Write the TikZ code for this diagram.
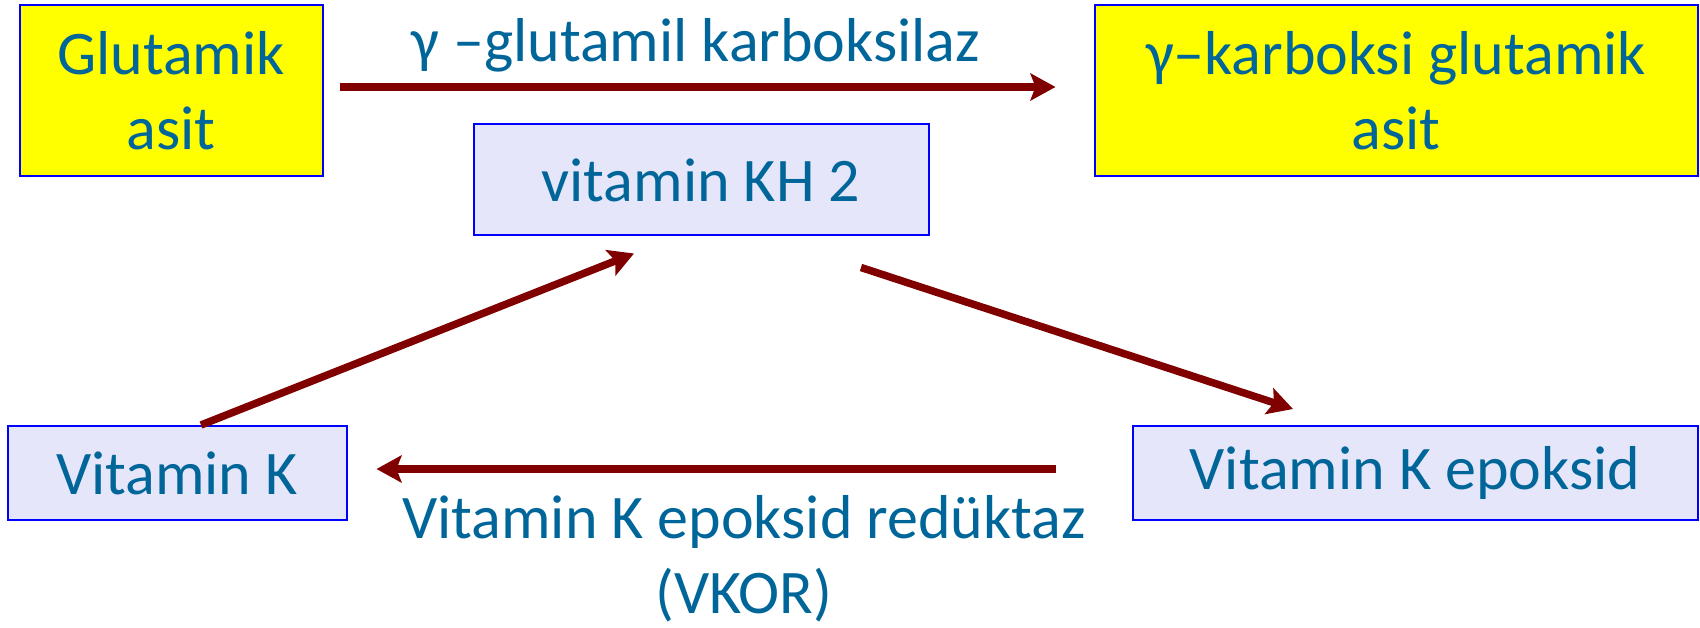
\documentclass[tikz,border=0pt]{standalone}
\usepackage{fontspec}
\setmainfont{Carlito}
\usetikzlibrary{arrows.meta}
\definecolor{txtblue}{RGB}{0,102,153}
\definecolor{arrred}{RGB}{128,0,0}
\definecolor{lavbox}{RGB}{230,230,250}
\definecolor{boxline}{RGB}{0,0,255}
\definecolor{acidyel}{RGB}{255,255,0}

\begin{document}
\begin{tikzpicture}[x=1pt,y=-1pt,line width=2pt,
    every node/.style={text=txtblue,font=\fontsize{62}{75}\selectfont,align=center,inner sep=0pt},
    acid/.style={draw=boxline,fill=acidyel,minimum height=171pt},
    vit/.style={draw=boxline,fill=lavbox},
    reac/.style={draw=arrred,line width=7.5pt,-{Stealth[length=25pt,width=27pt,inset=5pt]}}]

      \useasboundingbox (0,0) rectangle (1700,628);

      \path (171,91) node[acid,minimum width=303pt] (glu)  {Glutamik\\asit};
      \path (1396,91) node[acid,minimum width=603pt] (cglu)  {γ–karboksi glutamik\\asit};
      \path (701,180) node[vit,minimum width=455pt,minimum height=111pt] (kh2)  {vitamin KH 2};
      \path (177,473) node[vit,minimum width=339pt,minimum height=94pt] (vk)  {Vitamin K};
      \path (1415,473) node[vit,minimum width=565pt,minimum height=94pt] (vke)  {Vitamin K epoksid};

      \path (696,62) node[anchor=base] (ggcx)  {γ –glutamil karboksilaz};
      \path (744,613) node[anchor=base] (vkor)  {Vitamin K epoksid redüktaz\\(VKOR)};

      \draw[reac,shorten <=16pt,shorten >=38pt] ([yshift=4pt]glu.east) -- ([yshift=4pt]cglu.west);
      \draw[reac] ([xshift=24pt]vk.north) -- ([xshift=-67pt,yshift=-17pt]kh2.south);
      \draw[reac] ([xshift=160pt,yshift=-31pt]kh2.south) -- ([xshift=-122pt,yshift=16pt]vke.north);
      \draw[reac,shorten <=76pt,shorten >=29pt] ([yshift=4pt]vke.west) -- ([yshift=4pt]vk.east);
   \end{tikzpicture}
\end{document}
